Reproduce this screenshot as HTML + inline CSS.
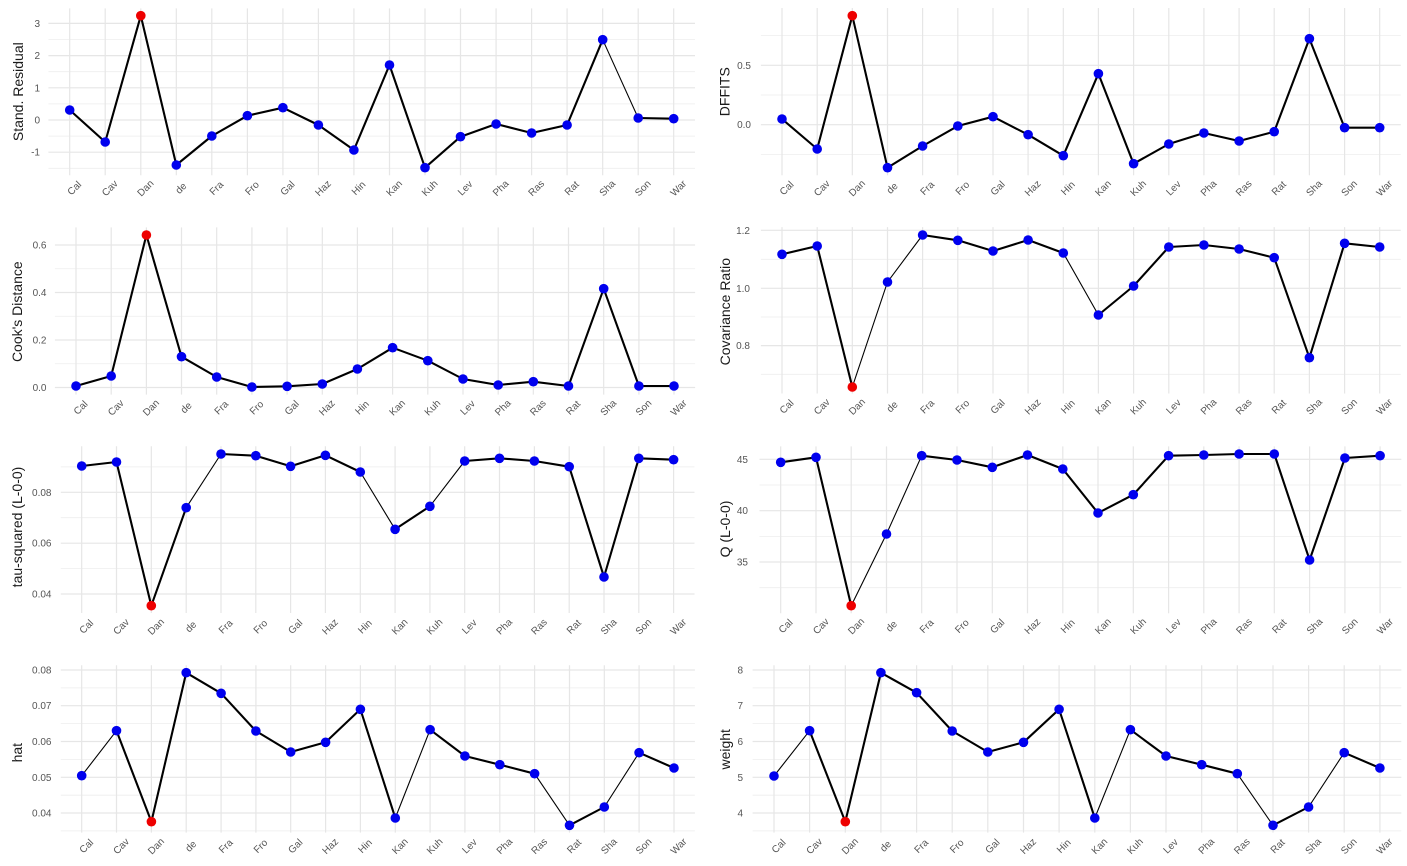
<!DOCTYPE html>
<html><head><meta charset="utf-8"><style>
html,body{margin:0;padding:0;background:#fff;}
svg{display:block;}
text{font-family:"Liberation Sans",Arial,sans-serif;}
.yt{font-size:10px;fill:#555;text-anchor:end;}
.xt{font-size:10px;fill:#555;text-anchor:middle;}
.ti{font-size:14px;fill:#1a1a1a;text-anchor:middle;}
.mj{stroke:#e6e6e6;stroke-width:1.2;fill:none;}
.mn{stroke:#eeeeee;stroke-width:0.8;fill:none;}
.tk{stroke:#000;stroke-width:2.1;fill:none;stroke-linejoin:round;stroke-linecap:round;}
.tn{stroke:#000;stroke-width:1.1;fill:none;stroke-linejoin:round;}
.b{fill:#0000ee;}
.r{fill:#ee0000;}
</style></head><body>
<svg width="1407" height="866" viewBox="0 0 1407 866" xmlns="http://www.w3.org/2000/svg">
<rect width="1407" height="866" fill="#fff"/>

<!-- ================= P1 Stand. Residual ================= -->
<g>
<path class="mn" d="M48.4,39.5H695M48.4,71.7H695M48.4,103.9H695M48.4,136.1H695M48.4,168.3H695"/>
<path class="mj" d="M48.4,23.4H695M48.4,55.6H695M48.4,87.8H695M48.4,120H695M48.4,152.2H695"/>
<path class="mj" d="M69.7,8.4V175.3M105.2,8.4V175.3M140.8,8.4V175.3M176.3,8.4V175.3M211.8,8.4V175.3M247.4,8.4V175.3M282.9,8.4V175.3M318.4,8.4V175.3M353.9,8.4V175.3M389.5,8.4V175.3M425,8.4V175.3M460.5,8.4V175.3M496.1,8.4V175.3M531.6,8.4V175.3M567.1,8.4V175.3M602.7,8.4V175.3M638.2,8.4V175.3M673.7,8.4V175.3"/>
<text class="yt" x="40" y="26.9">3</text>
<text class="yt" x="40" y="59.1">2</text>
<text class="yt" x="40" y="91.3">1</text>
<text class="yt" x="40" y="123.5">0</text>
<text class="yt" x="40" y="155.7">-1</text>
<text class="ti" transform="translate(18,91.7) rotate(-90)" dy="0.35em">Stand. Residual</text>
<path class="tk" d="M69.7,110 L105.2,142 L140.8,15.7 L176.3,165 L211.8,136 L247.4,115.7 L282.9,107.7 L318.4,125 L353.9,150 L389.5,65 L425,167.7 L460.5,136.7 L496.1,124 L531.6,133 L567.1,125 L602.7,39.7 M638.2,118 L673.7,118.7"/>
<path class="tn" d="M602.7,39.7 L638.2,118"/>
<g>
<circle class="b" cx="69.7" cy="110" r="4.8"/><circle class="b" cx="105.2" cy="142" r="4.8"/><circle class="r" cx="140.8" cy="15.7" r="4.8"/><circle class="b" cx="176.3" cy="165" r="4.8"/><circle class="b" cx="211.8" cy="136" r="4.8"/><circle class="b" cx="247.4" cy="115.7" r="4.8"/><circle class="b" cx="282.9" cy="107.7" r="4.8"/><circle class="b" cx="318.4" cy="125" r="4.8"/><circle class="b" cx="353.9" cy="150" r="4.8"/><circle class="b" cx="389.5" cy="65" r="4.8"/><circle class="b" cx="425" cy="167.7" r="4.8"/><circle class="b" cx="460.5" cy="136.7" r="4.8"/><circle class="b" cx="496.1" cy="124" r="4.8"/><circle class="b" cx="531.6" cy="133" r="4.8"/><circle class="b" cx="567.1" cy="125" r="4.8"/><circle class="b" cx="602.7" cy="39.7" r="4.8"/><circle class="b" cx="638.2" cy="118" r="4.8"/><circle class="b" cx="673.7" cy="118.7" r="4.8"/>
</g>
<text class="xt" transform="translate(74.2,188) rotate(-45)" dy="0.35em">Cal</text>
<text class="xt" transform="translate(109.7,188) rotate(-45)" dy="0.35em">Cav</text>
<text class="xt" transform="translate(145.3,188) rotate(-45)" dy="0.35em">Dan</text>
<text class="xt" transform="translate(180.8,188) rotate(-45)" dy="0.35em">de</text>
<text class="xt" transform="translate(216.3,188) rotate(-45)" dy="0.35em">Fra</text>
<text class="xt" transform="translate(251.9,188) rotate(-45)" dy="0.35em">Fro</text>
<text class="xt" transform="translate(287.4,188) rotate(-45)" dy="0.35em">Gal</text>
<text class="xt" transform="translate(322.9,188) rotate(-45)" dy="0.35em">Haz</text>
<text class="xt" transform="translate(358.4,188) rotate(-45)" dy="0.35em">Hin</text>
<text class="xt" transform="translate(394,188) rotate(-45)" dy="0.35em">Kan</text>
<text class="xt" transform="translate(429.5,188) rotate(-45)" dy="0.35em">Kuh</text>
<text class="xt" transform="translate(465,188) rotate(-45)" dy="0.35em">Lev</text>
<text class="xt" transform="translate(500.6,188) rotate(-45)" dy="0.35em">Pha</text>
<text class="xt" transform="translate(536.1,188) rotate(-45)" dy="0.35em">Ras</text>
<text class="xt" transform="translate(571.6,188) rotate(-45)" dy="0.35em">Rat</text>
<text class="xt" transform="translate(607.2,188) rotate(-45)" dy="0.35em">Sha</text>
<text class="xt" transform="translate(642.7,188) rotate(-45)" dy="0.35em">Son</text>
<text class="xt" transform="translate(678.2,188) rotate(-45)" dy="0.35em">War</text>
</g>

<!-- ================= P2 DFFITS ================= -->
<g>
<path class="mn" d="M760.9,35.6H1400.8M760.9,95H1400.8M760.9,154.4H1400.8"/>
<path class="mj" d="M760.9,65.3H1400.8M760.9,124.7H1400.8"/>
<path class="mj" d="M782,8V175.3M817.2,8V175.3M852.3,8V175.3M887.5,8V175.3M922.6,8V175.3M957.8,8V175.3M993,8V175.3M1028.1,8V175.3M1063.3,8V175.3M1098.4,8V175.3M1133.6,8V175.3M1168.8,8V175.3M1203.9,8V175.3M1239.1,8V175.3M1274.2,8V175.3M1309.4,8V175.3M1344.6,8V175.3M1379.7,8V175.3"/>
<text class="yt" x="751" y="68.8">0.5</text>
<text class="yt" x="751" y="128.2">0.0</text>
<text class="ti" transform="translate(724.5,91.7) rotate(-90)" dy="0.35em">DFFITS</text>
<path class="tk" d="M782,119 L817.2,149 L852.3,15.7 L887.5,167.7 L922.6,146 L957.8,126 L993,116.7 L1028.1,134.7 L1063.3,155.7 L1098.4,73.7 L1133.6,163.7 L1168.8,144 L1203.9,133 L1239.1,141 L1274.2,131.7 L1309.4,38.7 L1344.6,127.7 L1379.7,127.7"/>
<g>
<circle class="b" cx="782" cy="119" r="4.8"/><circle class="b" cx="817.2" cy="149" r="4.8"/><circle class="r" cx="852.3" cy="15.7" r="4.8"/><circle class="b" cx="887.5" cy="167.7" r="4.8"/><circle class="b" cx="922.6" cy="146" r="4.8"/><circle class="b" cx="957.8" cy="126" r="4.8"/><circle class="b" cx="993" cy="116.7" r="4.8"/><circle class="b" cx="1028.1" cy="134.7" r="4.8"/><circle class="b" cx="1063.3" cy="155.7" r="4.8"/><circle class="b" cx="1098.4" cy="73.7" r="4.8"/><circle class="b" cx="1133.6" cy="163.7" r="4.8"/><circle class="b" cx="1168.8" cy="144" r="4.8"/><circle class="b" cx="1203.9" cy="133" r="4.8"/><circle class="b" cx="1239.1" cy="141" r="4.8"/><circle class="b" cx="1274.2" cy="131.7" r="4.8"/><circle class="b" cx="1309.4" cy="38.7" r="4.8"/><circle class="b" cx="1344.6" cy="127.7" r="4.8"/><circle class="b" cx="1379.7" cy="127.7" r="4.8"/>
</g>
<text class="xt" transform="translate(786.5,188) rotate(-45)" dy="0.35em">Cal</text>
<text class="xt" transform="translate(821.7,188) rotate(-45)" dy="0.35em">Cav</text>
<text class="xt" transform="translate(856.8,188) rotate(-45)" dy="0.35em">Dan</text>
<text class="xt" transform="translate(892,188) rotate(-45)" dy="0.35em">de</text>
<text class="xt" transform="translate(927.1,188) rotate(-45)" dy="0.35em">Fra</text>
<text class="xt" transform="translate(962.3,188) rotate(-45)" dy="0.35em">Fro</text>
<text class="xt" transform="translate(997.5,188) rotate(-45)" dy="0.35em">Gal</text>
<text class="xt" transform="translate(1032.6,188) rotate(-45)" dy="0.35em">Haz</text>
<text class="xt" transform="translate(1067.8,188) rotate(-45)" dy="0.35em">Hin</text>
<text class="xt" transform="translate(1102.9,188) rotate(-45)" dy="0.35em">Kan</text>
<text class="xt" transform="translate(1138.1,188) rotate(-45)" dy="0.35em">Kuh</text>
<text class="xt" transform="translate(1173.3,188) rotate(-45)" dy="0.35em">Lev</text>
<text class="xt" transform="translate(1208.4,188) rotate(-45)" dy="0.35em">Pha</text>
<text class="xt" transform="translate(1243.6,188) rotate(-45)" dy="0.35em">Ras</text>
<text class="xt" transform="translate(1278.7,188) rotate(-45)" dy="0.35em">Rat</text>
<text class="xt" transform="translate(1313.9,188) rotate(-45)" dy="0.35em">Sha</text>
<text class="xt" transform="translate(1349.1,188) rotate(-45)" dy="0.35em">Son</text>
<text class="xt" transform="translate(1384.2,188) rotate(-45)" dy="0.35em">War</text>
</g>

<!-- ================= P3 Cook's Distance ================= -->
<g>
<path class="mn" d="M54.9,268.75H695.1M54.9,316.25H695.1M54.9,363.75H695.1"/>
<path class="mj" d="M54.9,245H695.1M54.9,292.5H695.1M54.9,340H695.1M54.9,387.5H695.1"/>
<path class="mj" d="M76,227.4V394.6M111.2,227.4V394.6M146.4,227.4V394.6M181.5,227.4V394.6M216.7,227.4V394.6M251.9,227.4V394.6M287.1,227.4V394.6M322.3,227.4V394.6M357.4,227.4V394.6M392.6,227.4V394.6M427.8,227.4V394.6M463,227.4V394.6M498.2,227.4V394.6M533.3,227.4V394.6M568.5,227.4V394.6M603.7,227.4V394.6M638.9,227.4V394.6M674,227.4V394.6"/>
<text class="yt" x="46.5" y="248.5">0.6</text>
<text class="yt" x="46.5" y="296">0.4</text>
<text class="yt" x="46.5" y="343.5">0.2</text>
<text class="yt" x="46.5" y="391">0.0</text>
<text class="ti" transform="translate(17,311.7) rotate(-90)" dy="0.35em">Cook's Distance</text>
<path class="tk" d="M76,386 L111.2,376 L146.4,235 L181.5,356.7 L216.7,377 L251.9,387 L287.1,386.3 L322.3,384 L357.4,369 L392.6,347.7 L427.8,360.7 L463,379 L498.2,385 L533.3,381.7 L568.5,386 L603.7,288.7 L638.9,386 L674,386"/>
<g>
<circle class="b" cx="76" cy="386" r="4.8"/><circle class="b" cx="111.2" cy="376" r="4.8"/><circle class="r" cx="146.4" cy="235" r="4.8"/><circle class="b" cx="181.5" cy="356.7" r="4.8"/><circle class="b" cx="216.7" cy="377" r="4.8"/><circle class="b" cx="251.9" cy="387" r="4.8"/><circle class="b" cx="287.1" cy="386.3" r="4.8"/><circle class="b" cx="322.3" cy="384" r="4.8"/><circle class="b" cx="357.4" cy="369" r="4.8"/><circle class="b" cx="392.6" cy="347.7" r="4.8"/><circle class="b" cx="427.8" cy="360.7" r="4.8"/><circle class="b" cx="463" cy="379" r="4.8"/><circle class="b" cx="498.2" cy="385" r="4.8"/><circle class="b" cx="533.3" cy="381.7" r="4.8"/><circle class="b" cx="568.5" cy="386" r="4.8"/><circle class="b" cx="603.7" cy="288.7" r="4.8"/><circle class="b" cx="638.9" cy="386" r="4.8"/><circle class="b" cx="674" cy="386" r="4.8"/>
</g>
<text class="xt" transform="translate(80.5,407.5) rotate(-45)" dy="0.35em">Cal</text>
<text class="xt" transform="translate(115.7,407.5) rotate(-45)" dy="0.35em">Cav</text>
<text class="xt" transform="translate(150.9,407.5) rotate(-45)" dy="0.35em">Dan</text>
<text class="xt" transform="translate(186,407.5) rotate(-45)" dy="0.35em">de</text>
<text class="xt" transform="translate(221.2,407.5) rotate(-45)" dy="0.35em">Fra</text>
<text class="xt" transform="translate(256.4,407.5) rotate(-45)" dy="0.35em">Fro</text>
<text class="xt" transform="translate(291.6,407.5) rotate(-45)" dy="0.35em">Gal</text>
<text class="xt" transform="translate(326.8,407.5) rotate(-45)" dy="0.35em">Haz</text>
<text class="xt" transform="translate(361.9,407.5) rotate(-45)" dy="0.35em">Hin</text>
<text class="xt" transform="translate(397.1,407.5) rotate(-45)" dy="0.35em">Kan</text>
<text class="xt" transform="translate(432.3,407.5) rotate(-45)" dy="0.35em">Kuh</text>
<text class="xt" transform="translate(467.5,407.5) rotate(-45)" dy="0.35em">Lev</text>
<text class="xt" transform="translate(502.7,407.5) rotate(-45)" dy="0.35em">Pha</text>
<text class="xt" transform="translate(537.8,407.5) rotate(-45)" dy="0.35em">Ras</text>
<text class="xt" transform="translate(573,407.5) rotate(-45)" dy="0.35em">Rat</text>
<text class="xt" transform="translate(608.2,407.5) rotate(-45)" dy="0.35em">Sha</text>
<text class="xt" transform="translate(643.4,407.5) rotate(-45)" dy="0.35em">Son</text>
<text class="xt" transform="translate(678.5,407.5) rotate(-45)" dy="0.35em">War</text>
</g>

<!-- ================= P4 Covariance Ratio ================= -->
<g>
<path class="mn" d="M760.9,259.3H1400.8M760.9,317H1400.8M760.9,374.3H1400.8"/>
<path class="mj" d="M760.9,230.3H1400.8M760.9,288.3H1400.8M760.9,345.6H1400.8"/>
<path class="mj" d="M782,227.1V393.5M817.2,227.1V393.5M852.3,227.1V393.5M887.5,227.1V393.5M922.6,227.1V393.5M957.8,227.1V393.5M993,227.1V393.5M1028.1,227.1V393.5M1063.3,227.1V393.5M1098.4,227.1V393.5M1133.6,227.1V393.5M1168.8,227.1V393.5M1203.9,227.1V393.5M1239.1,227.1V393.5M1274.2,227.1V393.5M1309.4,227.1V393.5M1344.6,227.1V393.5M1379.7,227.1V393.5"/>
<text class="yt" x="750" y="233.8">1.2</text>
<text class="yt" x="750" y="291.8">1.0</text>
<text class="yt" x="750" y="349.1">0.8</text>
<text class="ti" transform="translate(725,311.7) rotate(-90)" dy="0.35em">Covariance Ratio</text>
<path class="tk" d="M782,254.3 L817.2,246 L852.3,387 M922.6,235 L957.8,240.3 L993,251 L1028.1,240 L1063.3,253 M1098.4,315 L1133.6,286 L1168.8,247 L1203.9,245 L1239.1,249 L1274.2,257.7 L1309.4,357.7 L1344.6,243.3 L1379.7,247"/>
<path class="tn" d="M852.3,387 L887.5,282 L922.6,235 M1063.3,253 L1098.4,315"/>
<g>
<circle class="b" cx="782" cy="254.3" r="4.8"/><circle class="b" cx="817.2" cy="246" r="4.8"/><circle class="r" cx="852.3" cy="387" r="4.8"/><circle class="b" cx="887.5" cy="282" r="4.8"/><circle class="b" cx="922.6" cy="235" r="4.8"/><circle class="b" cx="957.8" cy="240.3" r="4.8"/><circle class="b" cx="993" cy="251" r="4.8"/><circle class="b" cx="1028.1" cy="240" r="4.8"/><circle class="b" cx="1063.3" cy="253" r="4.8"/><circle class="b" cx="1098.4" cy="315" r="4.8"/><circle class="b" cx="1133.6" cy="286" r="4.8"/><circle class="b" cx="1168.8" cy="247" r="4.8"/><circle class="b" cx="1203.9" cy="245" r="4.8"/><circle class="b" cx="1239.1" cy="249" r="4.8"/><circle class="b" cx="1274.2" cy="257.7" r="4.8"/><circle class="b" cx="1309.4" cy="357.7" r="4.8"/><circle class="b" cx="1344.6" cy="243.3" r="4.8"/><circle class="b" cx="1379.7" cy="247" r="4.8"/>
</g>
<text class="xt" transform="translate(786.5,406.5) rotate(-45)" dy="0.35em">Cal</text>
<text class="xt" transform="translate(821.7,406.5) rotate(-45)" dy="0.35em">Cav</text>
<text class="xt" transform="translate(856.8,406.5) rotate(-45)" dy="0.35em">Dan</text>
<text class="xt" transform="translate(892,406.5) rotate(-45)" dy="0.35em">de</text>
<text class="xt" transform="translate(927.1,406.5) rotate(-45)" dy="0.35em">Fra</text>
<text class="xt" transform="translate(962.3,406.5) rotate(-45)" dy="0.35em">Fro</text>
<text class="xt" transform="translate(997.5,406.5) rotate(-45)" dy="0.35em">Gal</text>
<text class="xt" transform="translate(1032.6,406.5) rotate(-45)" dy="0.35em">Haz</text>
<text class="xt" transform="translate(1067.8,406.5) rotate(-45)" dy="0.35em">Hin</text>
<text class="xt" transform="translate(1102.9,406.5) rotate(-45)" dy="0.35em">Kan</text>
<text class="xt" transform="translate(1138.1,406.5) rotate(-45)" dy="0.35em">Kuh</text>
<text class="xt" transform="translate(1173.3,406.5) rotate(-45)" dy="0.35em">Lev</text>
<text class="xt" transform="translate(1208.4,406.5) rotate(-45)" dy="0.35em">Pha</text>
<text class="xt" transform="translate(1243.6,406.5) rotate(-45)" dy="0.35em">Ras</text>
<text class="xt" transform="translate(1278.7,406.5) rotate(-45)" dy="0.35em">Rat</text>
<text class="xt" transform="translate(1313.9,406.5) rotate(-45)" dy="0.35em">Sha</text>
<text class="xt" transform="translate(1349.1,406.5) rotate(-45)" dy="0.35em">Son</text>
<text class="xt" transform="translate(1384.2,406.5) rotate(-45)" dy="0.35em">War</text>
</g>

<!-- ================= P5 tau-squared ================= -->
<g>
<path class="mn" d="M60.8,466.9H694.5M60.8,517.7H694.5M60.8,568.6H694.5"/>
<path class="mj" d="M60.8,492.3H694.5M60.8,543.2H694.5M60.8,594H694.5"/>
<path class="mj" d="M81.7,446.3V613M116.5,446.3V613M151.3,446.3V613M186.2,446.3V613M221,446.3V613M255.8,446.3V613M290.6,446.3V613M325.4,446.3V613M360.3,446.3V613M395.1,446.3V613M429.9,446.3V613M464.7,446.3V613M499.5,446.3V613M534.4,446.3V613M569.2,446.3V613M604,446.3V613M638.8,446.3V613M673.6,446.3V613"/>
<text class="yt" x="51.5" y="495.8">0.08</text>
<text class="yt" x="51.5" y="546.7">0.06</text>
<text class="yt" x="51.5" y="597.5">0.04</text>
<text class="ti" transform="translate(17,527) rotate(-90)" dy="0.35em">tau-squared (L-0-0)</text>
<path class="tk" d="M81.7,466 L116.5,462 L151.3,605.7 L186.2,507.7 M221,454 L255.8,455.7 L290.6,466.3 L325.4,455.3 L360.3,472 M395.1,529.3 L429.9,506.3 M464.7,461 L499.5,458.3 L534.4,461 L569.2,466.7 L604,577 L638.8,458.3 L673.6,459.7"/>
<path class="tn" d="M186.2,507.7 L221,454 M360.3,472 L395.1,529.3 M429.9,506.3 L464.7,461"/>
<g>
<circle class="b" cx="81.7" cy="466" r="4.8"/><circle class="b" cx="116.5" cy="462" r="4.8"/><circle class="r" cx="151.3" cy="605.7" r="4.8"/><circle class="b" cx="186.2" cy="507.7" r="4.8"/><circle class="b" cx="221" cy="454" r="4.8"/><circle class="b" cx="255.8" cy="455.7" r="4.8"/><circle class="b" cx="290.6" cy="466.3" r="4.8"/><circle class="b" cx="325.4" cy="455.3" r="4.8"/><circle class="b" cx="360.3" cy="472" r="4.8"/><circle class="b" cx="395.1" cy="529.3" r="4.8"/><circle class="b" cx="429.9" cy="506.3" r="4.8"/><circle class="b" cx="464.7" cy="461" r="4.8"/><circle class="b" cx="499.5" cy="458.3" r="4.8"/><circle class="b" cx="534.4" cy="461" r="4.8"/><circle class="b" cx="569.2" cy="466.7" r="4.8"/><circle class="b" cx="604" cy="577" r="4.8"/><circle class="b" cx="638.8" cy="458.3" r="4.8"/><circle class="b" cx="673.6" cy="459.7" r="4.8"/>
</g>
<text class="xt" transform="translate(86.2,626.5) rotate(-45)" dy="0.35em">Cal</text>
<text class="xt" transform="translate(121,626.5) rotate(-45)" dy="0.35em">Cav</text>
<text class="xt" transform="translate(155.8,626.5) rotate(-45)" dy="0.35em">Dan</text>
<text class="xt" transform="translate(190.7,626.5) rotate(-45)" dy="0.35em">de</text>
<text class="xt" transform="translate(225.5,626.5) rotate(-45)" dy="0.35em">Fra</text>
<text class="xt" transform="translate(260.3,626.5) rotate(-45)" dy="0.35em">Fro</text>
<text class="xt" transform="translate(295.1,626.5) rotate(-45)" dy="0.35em">Gal</text>
<text class="xt" transform="translate(329.9,626.5) rotate(-45)" dy="0.35em">Haz</text>
<text class="xt" transform="translate(364.8,626.5) rotate(-45)" dy="0.35em">Hin</text>
<text class="xt" transform="translate(399.6,626.5) rotate(-45)" dy="0.35em">Kan</text>
<text class="xt" transform="translate(434.4,626.5) rotate(-45)" dy="0.35em">Kuh</text>
<text class="xt" transform="translate(469.2,626.5) rotate(-45)" dy="0.35em">Lev</text>
<text class="xt" transform="translate(504,626.5) rotate(-45)" dy="0.35em">Pha</text>
<text class="xt" transform="translate(538.9,626.5) rotate(-45)" dy="0.35em">Ras</text>
<text class="xt" transform="translate(573.7,626.5) rotate(-45)" dy="0.35em">Rat</text>
<text class="xt" transform="translate(608.5,626.5) rotate(-45)" dy="0.35em">Sha</text>
<text class="xt" transform="translate(643.3,626.5) rotate(-45)" dy="0.35em">Son</text>
<text class="xt" transform="translate(678.1,626.5) rotate(-45)" dy="0.35em">War</text>
</g>

<!-- ================= P6 Q (L-0-0) ================= -->
<g>
<path class="mn" d="M759.5,485H1401.3M759.5,536.4H1401.3M759.5,587.7H1401.3"/>
<path class="mj" d="M759.5,459.3H1401.3M759.5,510.7H1401.3M759.5,562H1401.3"/>
<path class="mj" d="M780.7,446.4V613.3M816,446.4V613.3M851.2,446.4V613.3M886.5,446.4V613.3M921.7,446.4V613.3M957,446.4V613.3M992.3,446.4V613.3M1027.5,446.4V613.3M1062.8,446.4V613.3M1098,446.4V613.3M1133.3,446.4V613.3M1168.6,446.4V613.3M1203.8,446.4V613.3M1239.1,446.4V613.3M1274.3,446.4V613.3M1309.6,446.4V613.3M1344.9,446.4V613.3M1380.1,446.4V613.3"/>
<text class="yt" x="748" y="462.8">45</text>
<text class="yt" x="748" y="514.2">40</text>
<text class="yt" x="748" y="565.5">35</text>
<text class="ti" transform="translate(725,529) rotate(-90)" dy="0.35em">Q (L-0-0)</text>
<path class="tk" d="M780.7,462.3 L816,457.3 L851.2,605.7 M921.7,455.7 L957,460 L992.3,467.3 L1027.5,455 L1062.8,469 L1098,513 L1133.3,494.7 L1168.6,455.7 L1203.8,455 L1239.1,454 L1274.3,454 L1309.6,560 L1344.9,458 L1380.1,455.7"/>
<path class="tn" d="M851.2,605.7 L886.5,534 L921.7,455.7"/>
<g>
<circle class="b" cx="780.7" cy="462.3" r="4.8"/><circle class="b" cx="816" cy="457.3" r="4.8"/><circle class="r" cx="851.2" cy="605.7" r="4.8"/><circle class="b" cx="886.5" cy="534" r="4.8"/><circle class="b" cx="921.7" cy="455.7" r="4.8"/><circle class="b" cx="957" cy="460" r="4.8"/><circle class="b" cx="992.3" cy="467.3" r="4.8"/><circle class="b" cx="1027.5" cy="455" r="4.8"/><circle class="b" cx="1062.8" cy="469" r="4.8"/><circle class="b" cx="1098" cy="513" r="4.8"/><circle class="b" cx="1133.3" cy="494.7" r="4.8"/><circle class="b" cx="1168.6" cy="455.7" r="4.8"/><circle class="b" cx="1203.8" cy="455" r="4.8"/><circle class="b" cx="1239.1" cy="454" r="4.8"/><circle class="b" cx="1274.3" cy="454" r="4.8"/><circle class="b" cx="1309.6" cy="560" r="4.8"/><circle class="b" cx="1344.9" cy="458" r="4.8"/><circle class="b" cx="1380.1" cy="455.7" r="4.8"/>
</g>
<text class="xt" transform="translate(785.5,626) rotate(-45)" dy="0.35em">Cal</text>
<text class="xt" transform="translate(820.8,626) rotate(-45)" dy="0.35em">Cav</text>
<text class="xt" transform="translate(856,626) rotate(-45)" dy="0.35em">Dan</text>
<text class="xt" transform="translate(891.3,626) rotate(-45)" dy="0.35em">de</text>
<text class="xt" transform="translate(926.5,626) rotate(-45)" dy="0.35em">Fra</text>
<text class="xt" transform="translate(961.8,626) rotate(-45)" dy="0.35em">Fro</text>
<text class="xt" transform="translate(997.1,626) rotate(-45)" dy="0.35em">Gal</text>
<text class="xt" transform="translate(1032.3,626) rotate(-45)" dy="0.35em">Haz</text>
<text class="xt" transform="translate(1067.6,626) rotate(-45)" dy="0.35em">Hin</text>
<text class="xt" transform="translate(1102.8,626) rotate(-45)" dy="0.35em">Kan</text>
<text class="xt" transform="translate(1138.1,626) rotate(-45)" dy="0.35em">Kuh</text>
<text class="xt" transform="translate(1173.4,626) rotate(-45)" dy="0.35em">Lev</text>
<text class="xt" transform="translate(1208.6,626) rotate(-45)" dy="0.35em">Pha</text>
<text class="xt" transform="translate(1243.9,626) rotate(-45)" dy="0.35em">Ras</text>
<text class="xt" transform="translate(1279.1,626) rotate(-45)" dy="0.35em">Rat</text>
<text class="xt" transform="translate(1314.4,626) rotate(-45)" dy="0.35em">Sha</text>
<text class="xt" transform="translate(1349.7,626) rotate(-45)" dy="0.35em">Son</text>
<text class="xt" transform="translate(1384.9,626) rotate(-45)" dy="0.35em">War</text>
</g>

<!-- ================= P7 hat ================= -->
<g>
<path class="mn" d="M60.8,687.9H694.9M60.8,723.6H694.9M60.8,759.4H694.9M60.8,795.2H694.9M60.8,830.9H694.9"/>
<path class="mj" d="M60.8,670H694.9M60.8,705.7H694.9M60.8,741.5H694.9M60.8,777.3H694.9M60.8,813H694.9"/>
<path class="mj" d="M81.7,665.2V832.6M116.5,665.2V832.6M151.4,665.2V832.6M186.2,665.2V832.6M221.1,665.2V832.6M255.9,665.2V832.6M290.7,665.2V832.6M325.6,665.2V832.6M360.4,665.2V832.6M395.3,665.2V832.6M430.1,665.2V832.6M464.9,665.2V832.6M499.8,665.2V832.6M534.6,665.2V832.6M569.5,665.2V832.6M604.3,665.2V832.6M639.1,665.2V832.6M674,665.2V832.6"/>
<text class="yt" x="51.5" y="673.5">0.08</text>
<text class="yt" x="51.5" y="709.2">0.07</text>
<text class="yt" x="51.5" y="745">0.06</text>
<text class="yt" x="51.5" y="780.8">0.05</text>
<text class="yt" x="51.5" y="816.5">0.04</text>
<text class="ti" transform="translate(17,752.7) rotate(-90)" dy="0.35em">hat</text>
<path class="tk" d="M116.5,730.7 L151.4,821.7 L186.2,672.7 L221.1,693.3 L255.9,731 L290.7,752 L325.6,742.3 L360.4,709.3 L395.3,818 M430.1,729.7 L464.9,756 L499.8,764.7 L534.6,773.7 M569.5,825.3 L604.3,807 M639.1,752.7 L674,768"/>
<path class="tn" d="M81.7,775.7 L116.5,730.7 M395.3,818 L430.1,729.7 M534.6,773.7 L569.5,825.3 M604.3,807 L639.1,752.7"/>
<g>
<circle class="b" cx="81.7" cy="775.7" r="4.8"/><circle class="b" cx="116.5" cy="730.7" r="4.8"/><circle class="r" cx="151.4" cy="821.7" r="4.8"/><circle class="b" cx="186.2" cy="672.7" r="4.8"/><circle class="b" cx="221.1" cy="693.3" r="4.8"/><circle class="b" cx="255.9" cy="731" r="4.8"/><circle class="b" cx="290.7" cy="752" r="4.8"/><circle class="b" cx="325.6" cy="742.3" r="4.8"/><circle class="b" cx="360.4" cy="709.3" r="4.8"/><circle class="b" cx="395.3" cy="818" r="4.8"/><circle class="b" cx="430.1" cy="729.7" r="4.8"/><circle class="b" cx="464.9" cy="756" r="4.8"/><circle class="b" cx="499.8" cy="764.7" r="4.8"/><circle class="b" cx="534.6" cy="773.7" r="4.8"/><circle class="b" cx="569.5" cy="825.3" r="4.8"/><circle class="b" cx="604.3" cy="807" r="4.8"/><circle class="b" cx="639.1" cy="752.7" r="4.8"/><circle class="b" cx="674" cy="768" r="4.8"/>
</g>
<text class="xt" transform="translate(86.2,846) rotate(-45)" dy="0.35em">Cal</text>
<text class="xt" transform="translate(121,846) rotate(-45)" dy="0.35em">Cav</text>
<text class="xt" transform="translate(155.9,846) rotate(-45)" dy="0.35em">Dan</text>
<text class="xt" transform="translate(190.7,846) rotate(-45)" dy="0.35em">de</text>
<text class="xt" transform="translate(225.6,846) rotate(-45)" dy="0.35em">Fra</text>
<text class="xt" transform="translate(260.4,846) rotate(-45)" dy="0.35em">Fro</text>
<text class="xt" transform="translate(295.2,846) rotate(-45)" dy="0.35em">Gal</text>
<text class="xt" transform="translate(330.1,846) rotate(-45)" dy="0.35em">Haz</text>
<text class="xt" transform="translate(364.9,846) rotate(-45)" dy="0.35em">Hin</text>
<text class="xt" transform="translate(399.8,846) rotate(-45)" dy="0.35em">Kan</text>
<text class="xt" transform="translate(434.6,846) rotate(-45)" dy="0.35em">Kuh</text>
<text class="xt" transform="translate(469.4,846) rotate(-45)" dy="0.35em">Lev</text>
<text class="xt" transform="translate(504.3,846) rotate(-45)" dy="0.35em">Pha</text>
<text class="xt" transform="translate(539.1,846) rotate(-45)" dy="0.35em">Ras</text>
<text class="xt" transform="translate(574,846) rotate(-45)" dy="0.35em">Rat</text>
<text class="xt" transform="translate(608.8,846) rotate(-45)" dy="0.35em">Sha</text>
<text class="xt" transform="translate(643.6,846) rotate(-45)" dy="0.35em">Son</text>
<text class="xt" transform="translate(678.5,846) rotate(-45)" dy="0.35em">War</text>
</g>

<!-- ================= P8 weight ================= -->
<g>
<path class="mn" d="M752.6,687.9H1401.3M752.6,723.6H1401.3M752.6,759.4H1401.3M752.6,795.2H1401.3M752.6,830.9H1401.3"/>
<path class="mj" d="M752.6,670H1401.3M752.6,705.7H1401.3M752.6,741.5H1401.3M752.6,777.3H1401.3M752.6,813H1401.3"/>
<path class="mj" d="M774,665.2V832.6M809.6,665.2V832.6M845.3,665.2V832.6M880.9,665.2V832.6M916.6,665.2V832.6M952.2,665.2V832.6M987.8,665.2V832.6M1023.5,665.2V832.6M1059.1,665.2V832.6M1094.8,665.2V832.6M1130.4,665.2V832.6M1166,665.2V832.6M1201.7,665.2V832.6M1237.3,665.2V832.6M1273,665.2V832.6M1308.6,665.2V832.6M1344.2,665.2V832.6M1379.9,665.2V832.6"/>
<text class="yt" x="743" y="673.5">8</text>
<text class="yt" x="743" y="709.2">7</text>
<text class="yt" x="743" y="745">6</text>
<text class="yt" x="743" y="780.8">5</text>
<text class="yt" x="743" y="816.5">4</text>
<text class="ti" transform="translate(725,749.3) rotate(-90)" dy="0.35em">weight</text>
<path class="tk" d="M809.6,730.7 L845.3,821.7 L880.9,672.7 L916.6,692.7 L952.2,731 L987.8,752 L1023.5,742.3 L1059.1,709.3 L1094.8,818 M1130.4,729.7 L1166,756 L1201.7,764.7 L1237.3,773.7 M1273,825.3 L1308.6,807 M1344.2,752.7 L1379.9,768"/>
<path class="tn" d="M774,776 L809.6,730.7 M1094.8,818 L1130.4,729.7 M1237.3,773.7 L1273,825.3 M1308.6,807 L1344.2,752.7"/>
<g>
<circle class="b" cx="774" cy="776" r="4.8"/><circle class="b" cx="809.6" cy="730.7" r="4.8"/><circle class="r" cx="845.3" cy="821.7" r="4.8"/><circle class="b" cx="880.9" cy="672.7" r="4.8"/><circle class="b" cx="916.6" cy="692.7" r="4.8"/><circle class="b" cx="952.2" cy="731" r="4.8"/><circle class="b" cx="987.8" cy="752" r="4.8"/><circle class="b" cx="1023.5" cy="742.3" r="4.8"/><circle class="b" cx="1059.1" cy="709.3" r="4.8"/><circle class="b" cx="1094.8" cy="818" r="4.8"/><circle class="b" cx="1130.4" cy="729.7" r="4.8"/><circle class="b" cx="1166" cy="756" r="4.8"/><circle class="b" cx="1201.7" cy="764.7" r="4.8"/><circle class="b" cx="1237.3" cy="773.7" r="4.8"/><circle class="b" cx="1273" cy="825.3" r="4.8"/><circle class="b" cx="1308.6" cy="807" r="4.8"/><circle class="b" cx="1344.2" cy="752.7" r="4.8"/><circle class="b" cx="1379.9" cy="768" r="4.8"/>
</g>
<text class="xt" transform="translate(778.5,846) rotate(-45)" dy="0.35em">Cal</text>
<text class="xt" transform="translate(814.1,846) rotate(-45)" dy="0.35em">Cav</text>
<text class="xt" transform="translate(849.8,846) rotate(-45)" dy="0.35em">Dan</text>
<text class="xt" transform="translate(885.4,846) rotate(-45)" dy="0.35em">de</text>
<text class="xt" transform="translate(921.1,846) rotate(-45)" dy="0.35em">Fra</text>
<text class="xt" transform="translate(956.7,846) rotate(-45)" dy="0.35em">Fro</text>
<text class="xt" transform="translate(992.3,846) rotate(-45)" dy="0.35em">Gal</text>
<text class="xt" transform="translate(1028,846) rotate(-45)" dy="0.35em">Haz</text>
<text class="xt" transform="translate(1063.6,846) rotate(-45)" dy="0.35em">Hin</text>
<text class="xt" transform="translate(1099.3,846) rotate(-45)" dy="0.35em">Kan</text>
<text class="xt" transform="translate(1134.9,846) rotate(-45)" dy="0.35em">Kuh</text>
<text class="xt" transform="translate(1170.5,846) rotate(-45)" dy="0.35em">Lev</text>
<text class="xt" transform="translate(1206.2,846) rotate(-45)" dy="0.35em">Pha</text>
<text class="xt" transform="translate(1241.8,846) rotate(-45)" dy="0.35em">Ras</text>
<text class="xt" transform="translate(1277.5,846) rotate(-45)" dy="0.35em">Rat</text>
<text class="xt" transform="translate(1313.1,846) rotate(-45)" dy="0.35em">Sha</text>
<text class="xt" transform="translate(1348.7,846) rotate(-45)" dy="0.35em">Son</text>
<text class="xt" transform="translate(1384.4,846) rotate(-45)" dy="0.35em">War</text>
</g>
</svg>
</body></html>
